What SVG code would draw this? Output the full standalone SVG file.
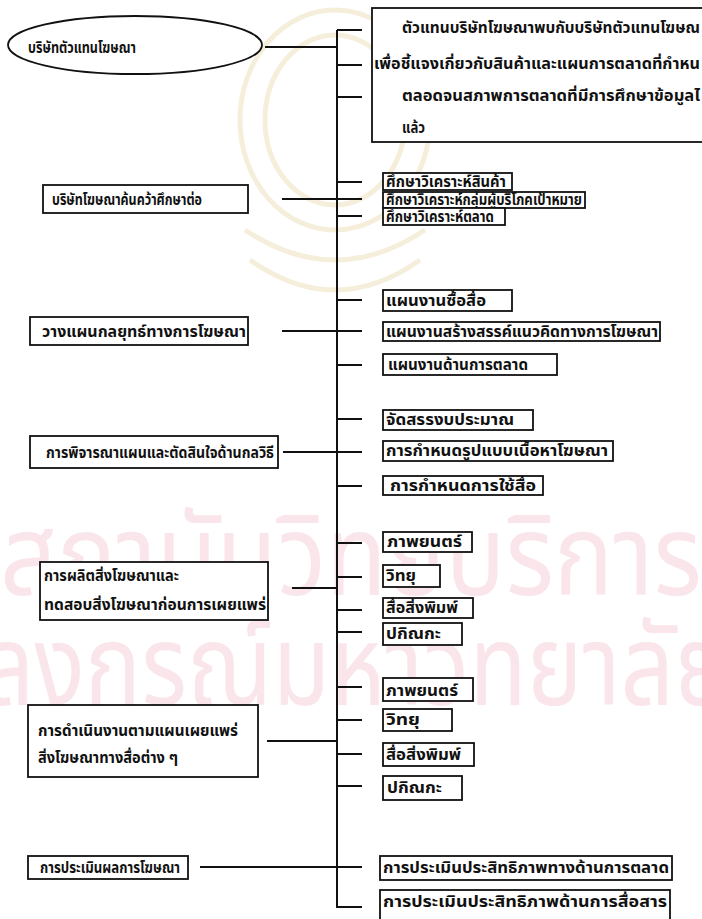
<svg xmlns="http://www.w3.org/2000/svg" width="702" height="919" viewBox="0 0 702 919">
<style>
.t{font-family:"Noto Sans Thai","Noto Sans","DejaVu Sans",sans-serif;font-size:15px;font-weight:bold;fill:#111}
.b{fill:#fff;stroke:#111;stroke-width:1.8}
.c{stroke:#111;stroke-width:2;fill:none}
.wm{font-family:"Noto Sans Thai","Noto Sans","DejaVu Sans",sans-serif;font-size:112px;fill:#fae6ea}
.seal{fill:none;stroke:#f4eedb;stroke-width:5}
</style>
<rect width="702" height="919" fill="#fff"/>
<g id="watermark">
<ellipse class="seal" cx="335" cy="120" rx="95" ry="110"/>
<ellipse class="seal" cx="335" cy="120" rx="70" ry="85"/>
<path class="seal" d="M245,230 Q335,290 425,230 M250,260 Q335,320 420,260"/>
<text class="wm" x="0" y="595" textLength="702" lengthAdjust="spacingAndGlyphs">สถาบันวิทยบริการ</text>
<text class="wm" x="-170" y="705" textLength="900" lengthAdjust="spacingAndGlyphs">จุฬาลงกรณ์มหาวิทยาลัย</text>
</g>
<g id="connectors">
<path class="c" d="M337,30 V908"/>
<path class="c" d="M337,30 H362 M337,65 H362 M337,97 H362 M265,47 H337"/>
<path class="c" d="M337,182 H362 M282,199 H362 M337,216 H362"/>
<path class="c" d="M337,300 H362 M282,331 H362 M337,365 H362"/>
<path class="c" d="M337,419 H362 M283,452 H362 M337,486 H362"/>
<path class="c" d="M337,543 H362 M337,577 H362 M292,588 H337 M337,610 H362 M337,632 H362"/>
<path class="c" d="M337,687 H362 M337,720 H362 M267,741 H337 M337,754 H362 M337,786 H362"/>
<path class="c" d="M200,867 H362 M337,907 H362"/>
</g>
<g id="n1">
<ellipse cx="135" cy="45" rx="127" ry="29" fill="#fff" stroke="#111" stroke-width="1.8"/>
<text class="t" x="28" y="53" textLength="108" lengthAdjust="spacingAndGlyphs">บริษัทตัวแทนโฆษณา</text>
</g>
<g id="n1a">
<rect class="b" x="372" y="8" width="345" height="134"/>
<text class="t" x="402" y="33" textLength="298" lengthAdjust="spacingAndGlyphs">ตัวแทนบริษัทโฆษณาพบกับบริษัทตัวแทนโฆษณ</text>
<text class="t" x="374" y="69" textLength="326" lengthAdjust="spacingAndGlyphs">เพื่อชี้แจงเกี่ยวกับสินค้าและแผนการตลาดที่กำหน</text>
<text class="t" x="402" y="101" textLength="298" lengthAdjust="spacingAndGlyphs">ตลอดจนสภาพการตลาดที่มีการศึกษาข้อมูลไ</text>
<text class="t" x="402" y="133" textLength="23" lengthAdjust="spacingAndGlyphs">แล้ว</text>
</g>
<g id="n2">
<rect class="b" x="43" y="185" width="205" height="28"/>
<text class="t" x="52" y="205" textLength="150" lengthAdjust="spacingAndGlyphs">บริษัทโฆษณาค้นคว้าศึกษาต่อ</text>
</g>
<g id="n2a"><rect class="b" x="383" y="173" width="129" height="17"/><text class="t" x="386" y="187" textLength="120" lengthAdjust="spacingAndGlyphs">ศึกษาวิเคราะห์สินค้า</text></g>
<g id="n2b"><rect class="b" x="383" y="192" width="202" height="16"/><text class="t" x="386" y="205" textLength="196" lengthAdjust="spacingAndGlyphs">ศึกษาวิเคราะห์กลุ่มผู้บริโภคเป้าหมาย</text></g>
<g id="n2c"><rect class="b" x="383" y="208" width="122" height="17"/><text class="t" x="386" y="222" textLength="108" lengthAdjust="spacingAndGlyphs">ศึกษาวิเคราะห์ตลาด</text></g>
<g id="n3">
<rect class="b" x="30" y="317" width="218" height="28"/>
<text class="t" x="42" y="337" textLength="204" lengthAdjust="spacingAndGlyphs">วางแผนกลยุทธ์ทางการโฆษณา</text>
</g>
<g id="n3a"><rect class="b" x="383" y="290" width="129" height="21"/><text class="t" x="386" y="306" textLength="100" lengthAdjust="spacingAndGlyphs">แผนงานซื้อสื่อ</text></g>
<g id="n3b"><rect class="b" x="383" y="322" width="277" height="19"/><text class="t" x="386" y="337" textLength="272" lengthAdjust="spacingAndGlyphs">แผนงานสร้างสรรค์แนวคิดทางการโฆษณา</text></g>
<g id="n3c"><rect class="b" x="383" y="354" width="174" height="21"/><text class="t" x="388" y="370" textLength="140" lengthAdjust="spacingAndGlyphs">แผนงานด้านการตลาด</text></g>
<g id="n4">
<rect class="b" x="30" y="436" width="248" height="32"/>
<text class="t" x="46" y="458" textLength="228" lengthAdjust="spacingAndGlyphs">การพิจารณาแผนและตัดสินใจด้านกลวิธี</text>
</g>
<g id="n4a"><rect class="b" x="383" y="410" width="150" height="20"/><text class="t" x="386" y="425" textLength="128" lengthAdjust="spacingAndGlyphs">จัดสรรงบประมาณ</text></g>
<g id="n4b"><rect class="b" x="383" y="441" width="230" height="20"/><text class="t" x="386" y="456" textLength="222" lengthAdjust="spacingAndGlyphs">การกำหนดรูปแบบเนื้อหาโฆษณา</text></g>
<g id="n4c"><rect class="b" x="383" y="476" width="160" height="19"/><text class="t" x="390" y="491" textLength="146" lengthAdjust="spacingAndGlyphs">การกำหนดการใช้สื่อ</text></g>
<g id="n5">
<rect class="b" x="40" y="562" width="228" height="58"/>
<text class="t" x="44" y="581" textLength="135" lengthAdjust="spacingAndGlyphs">การผลิตสิ่งโฆษณาและ</text>
<text class="t" x="44" y="610" textLength="222" lengthAdjust="spacingAndGlyphs">ทดสอบสิ่งโฆษณาก่อนการเผยแพร่</text>
</g>
<g id="n5a"><rect class="b" x="383" y="532" width="89" height="20"/><text class="t" x="387" y="547" textLength="75" lengthAdjust="spacingAndGlyphs">ภาพยนตร์</text></g>
<g id="n5b"><rect class="b" x="383" y="565" width="57" height="22"/><text class="t" x="386" y="581" textLength="30" lengthAdjust="spacingAndGlyphs">วิทยุ</text></g>
<g id="n5c"><rect class="b" x="383" y="598" width="90" height="20"/><text class="t" x="386" y="613" textLength="72" lengthAdjust="spacingAndGlyphs">สื่อสิ่งพิมพ์</text></g>
<g id="n5d"><rect class="b" x="383" y="623" width="79" height="22"/><text class="t" x="386" y="639" textLength="55" lengthAdjust="spacingAndGlyphs">ปกิณกะ</text></g>
<g id="n6">
<rect class="b" x="28" y="705" width="230" height="72"/>
<text class="t" x="38" y="736" textLength="200" lengthAdjust="spacingAndGlyphs">การดำเนินงานตามแผนเผยแพร่</text>
<text class="t" x="38" y="763" textLength="140" lengthAdjust="spacingAndGlyphs">สิ่งโฆษณาทางสื่อต่าง ๆ</text>
</g>
<g id="n6a"><rect class="b" x="383" y="678" width="90" height="23"/><text class="t" x="386" y="696" textLength="72" lengthAdjust="spacingAndGlyphs">ภาพยนตร์</text></g>
<g id="n6b"><rect class="b" x="383" y="709" width="69" height="22"/><text class="t" x="386" y="725" textLength="34" lengthAdjust="spacingAndGlyphs">วิทยุ</text></g>
<g id="n6c"><rect class="b" x="383" y="743" width="91" height="23"/><text class="t" x="386" y="760" textLength="75" lengthAdjust="spacingAndGlyphs">สื่อสิ่งพิมพ์</text></g>
<g id="n6d"><rect class="b" x="383" y="776" width="79" height="24"/><text class="t" x="387" y="793" textLength="55" lengthAdjust="spacingAndGlyphs">ปกิณกะ</text></g>
<g id="n7">
<rect class="b" x="28" y="856" width="160" height="23"/>
<text class="t" x="40" y="873" textLength="140" lengthAdjust="spacingAndGlyphs">การประเมินผลการโฆษณา</text>
</g>
<g id="n7a"><rect class="b" x="380" y="856" width="292" height="24"/><text class="t" x="383" y="873" textLength="286" lengthAdjust="spacingAndGlyphs">การประเมินประสิทธิภาพทางด้านการตลาด</text></g>
<g id="n7b"><rect class="b" x="380" y="890" width="290" height="35"/><text class="t" x="383" y="907" textLength="284" lengthAdjust="spacingAndGlyphs">การประเมินประสิทธิภาพด้านการสื่อสาร</text></g>
</svg>
